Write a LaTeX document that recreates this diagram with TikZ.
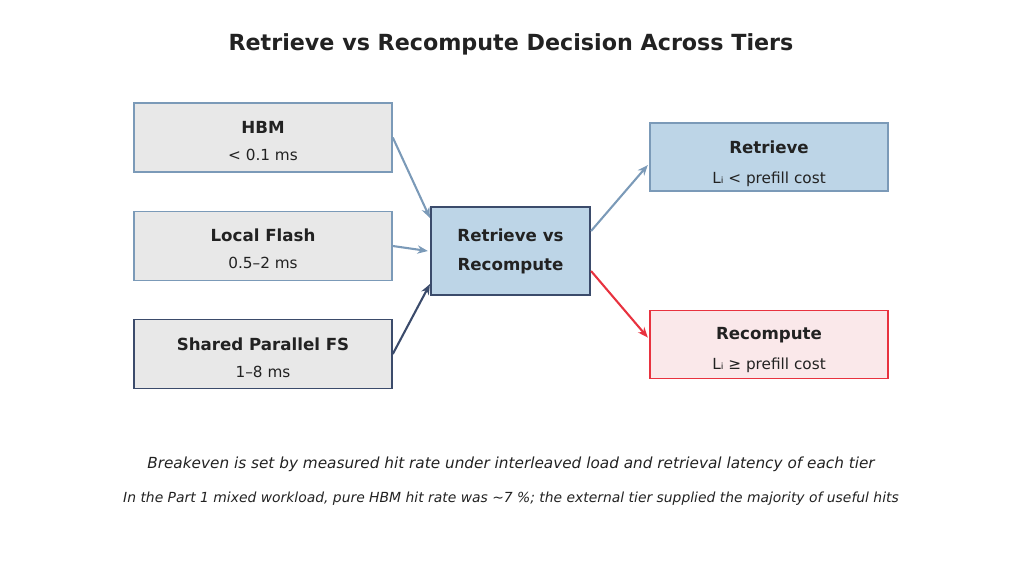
\documentclass[tikz,border=0pt]{standalone}
\usepackage{fontspec}
\setmainfont{DejaVu Sans}
\usetikzlibrary{arrows.meta}
\definecolor{txt}{HTML}{222222}
\definecolor{lightedge}{HTML}{7B9AB8}
\definecolor{darkedge}{HTML}{3B4B6B}
\definecolor{grayfill}{HTML}{E8E8E8}
\definecolor{bluefill}{HTML}{BDD5E7}
\definecolor{rededge}{HTML}{E8323F}
\definecolor{pinkfill}{HTML}{FAE8EA}
\tikzset{
  tierbox/.style={draw=lightedge, fill=grayfill, line width=1.1pt, minimum width=185.8pt, minimum height=49.7pt, inner sep=0pt},
  decbox/.style={draw=darkedge, fill=bluefill, line width=1.5pt, minimum width=114.5pt, minimum height=63.4pt, inner sep=0pt},
  outbox/.style={draw=lightedge, fill=bluefill, line width=1.1pt, minimum width=171.4pt, minimum height=49pt, inner sep=0pt},
  headlbl/.style={text=txt, inner sep=0pt, text height=0.73em, text depth=0pt, font=\fontsize{12}{14}\selectfont\bfseries},
  sublbl/.style={text=txt, inner sep=0pt, text height=0.73em, text depth=0pt, font=\fontsize{11}{13}\selectfont},
  conn/.style={line width=1.5pt, -{Stealth[length=7.5pt,width=6pt]}},
}
\begin{document}
\begin{tikzpicture}[x=0.72pt,y=-0.72pt]
\useasboundingbox (0,0) rectangle (1024,563);
\node[text=txt, inner sep=0pt, text height=0.73em, text depth=0pt, font=\fontsize{16}{19}\selectfont\bfseries] (title) at (511,45.5) {Retrieve vs Recompute Decision Across Tiers};
\node[tierbox] (hbm) at (263,137.5) {};
\node[headlbl] (hbmT) at (263,128.5) {HBM};
\node[sublbl] (hbmS) at (263,155) {< 0.1 ms};
\node[tierbox] (flash) at (263,246) {};
\node[headlbl] (flashT) at (263,236) {Local Flash};
\node[sublbl] (flashS) at (263,263.5) {0.5–2 ms};
\node[tierbox, draw=darkedge] (shared) at (263,354) {};
\node[headlbl] (sharedT) at (263,345.5) {Shared Parallel FS};
\node[sublbl] (sharedS) at (263,372) {1–8 ms};
\node[decbox] (dec) at (510.5,251) {};
\node[headlbl] (decT) at (510.5,236) {Retrieve vs};
\node[headlbl] (decS) at (510.5,265) {Recompute};
\node[outbox] (ret) at (769,157) {};
\node[headlbl] (retT) at (769,148) {Retrieve};
\node[sublbl] (retS) at (769,178) {Lᵢ < prefill cost};
\node[outbox, draw=rededge, fill=pinkfill] (rec) at (769,344.5) {};
\node[headlbl] (recT) at (769,334.5) {Recompute};
\node[sublbl] (recS) at (769,364) {Lᵢ ≥ prefill cost};
\draw[conn, lightedge] (hbm.east) -- ([yshift=23.8pt]dec.west);
\draw[conn, lightedge] (flash.east) -- ([xshift=-1.5pt]dec.west);
\draw[conn, darkedge] (shared.east) -- ([yshift=-23.8pt]dec.west);
\draw[conn, lightedge] ([yshift=14.4pt]dec.east) -- ([yshift=-5.8pt,xshift=-1pt]ret.west);
\draw[conn, rededge] ([yshift=-14.4pt]dec.east) -- ([yshift=5pt,xshift=-1pt]rec.west);
\node[text=txt, font=\fontsize{11}{13}\selectfont\itshape] (note1) at (511,464.5) {Breakeven is set by measured hit rate under interleaved load and retrieval latency of each tier};
\node[text=txt, font=\fontsize{10}{12}\selectfont\itshape] (note2) at (511,498.5) {In the Part 1 mixed workload, pure HBM hit rate was \textasciitilde7 \%; the external tier supplied the majority of useful hits};
\end{tikzpicture}
\end{document}
